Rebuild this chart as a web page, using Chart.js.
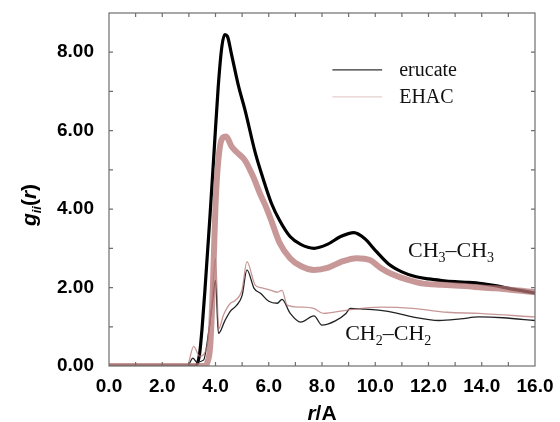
<!DOCTYPE html>
<html>
<head>
<meta charset="utf-8">
<script src="https://cdn.jsdelivr.net/npm/chart.js@4.4.1/dist/chart.umd.min.js"></script>
<style>
  html, body { margin: 0; padding: 0; background: #fff; }
  #wrap { width: 560px; height: 422px; }
</style>
</head>
<body>
<div id="wrap"><canvas id="grafico" width="560" height="422"></canvas></div>
<script>
// CH3-CH3, erucate (preto)
const rCH3Eru = [0, 3.25, 3.4, 3.5, 3.6, 3.7, 3.8, 3.95, 4.1, 4.24, 4.35, 4.45, 4.6, 4.87, 5.1, 5.5, 5.8, 6.1, 6.4, 6.8, 7.2, 7.7, 8.2, 8.7, 9.2, 9.6, 10.0, 10.5, 11.0, 11.5, 12.0, 12.5, 13.0, 13.5, 14.0, 14.5, 15.0, 15.5, 16.0];
const gCH3Eru = [0, 0, 0.3, 1.0, 1.9, 2.9, 3.9, 5.5, 7.1, 8.15, 8.45, 8.4, 7.95, 7.12, 6.55, 5.42, 4.75, 4.15, 3.72, 3.3, 3.1, 3.0, 3.1, 3.3, 3.4, 3.25, 2.95, 2.6, 2.4, 2.28, 2.22, 2.18, 2.15, 2.13, 2.1, 2.05, 1.98, 1.92, 1.86];

// CH3-CH3, EHAC (rosa)
const rCH3Ehac = [0, 3.6, 3.7, 3.8, 3.9, 4.0, 4.1, 4.25, 4.4, 4.6, 4.8, 5.1, 5.4, 5.7, 5.9, 6.1, 6.4, 6.8, 7.2, 7.7, 8.2, 8.7, 9.3, 9.8, 10.2, 10.6, 11.2, 11.8, 12.5, 13.0, 13.5, 14.0, 14.5, 15.0, 15.5, 16.0];
const gCH3Ehac = [0, 0, 0.1, 0.5, 2.0, 4.1, 5.2, 5.8, 5.85, 5.6, 5.45, 5.25, 4.85, 4.35, 4.05, 3.7, 3.15, 2.75, 2.55, 2.45, 2.5, 2.65, 2.75, 2.7, 2.5, 2.35, 2.2, 2.1, 2.07, 2.05, 2.03, 2.0, 1.98, 1.95, 1.92, 1.88];

// CH2-CH2, erucate (preto)
const rCH2Eru = [0, 2.95, 3.15, 3.3, 3.55, 3.75, 3.9, 4.0, 4.11, 4.35, 4.56, 4.8, 5.0, 5.18, 5.45, 5.7, 6.0, 6.32, 6.5, 6.8, 7.2, 7.7, 8.0, 8.5, 8.9, 9.06, 9.6, 10.2, 10.8, 11.4, 12.4, 13.2, 13.9, 14.8, 16.0];
const gCH2Eru = [0, 0, 0.2, 0.1, 0.15, 0.9, 1.7, 2.19, 0.83, 1.15, 1.4, 1.55, 1.8, 2.45, 1.98, 1.85, 1.65, 1.6, 1.7, 1.35, 1.12, 1.28, 1.04, 1.15, 1.34, 1.47, 1.45, 1.42, 1.35, 1.25, 1.16, 1.2, 1.25, 1.23, 1.16];

// CH2-CH2, EHAC (rosa)
const rCH2Ehac = [0, 2.93, 3.18, 3.4, 3.68, 3.85, 4.0, 4.12, 4.3, 4.56, 4.74, 5.0, 5.18, 5.49, 5.7, 6.0, 6.32, 6.5, 6.69, 7.19, 7.68, 8.05, 8.9, 10.2, 11.4, 12.7, 13.9, 16.0];
const gCH2Ehac = [0, 0, 0.5, 0.25, 0.5, 1.5, 2.75, 0.95, 1.3, 1.6, 1.67, 1.95, 2.66, 2.06, 2.0, 1.95, 1.88, 1.93, 1.55, 1.5, 1.47, 1.34, 1.42, 1.5, 1.47, 1.37, 1.34, 1.25];

const preto = '#000000';
const rosa = 'rgba(182, 118, 118, 0.75)';
const rosaLegenda = '#e6cfcf';
const corEixo = '#6e6e6e';

function pontos(xs, ys) {
    return xs.map((x, i) => ({ x: x, y: ys[i] }));
}

// Molduras, marcas internas e títulos dos eixos
const moldura = {
    id: 'moldura',
    afterDraw(chart) {
        const ctx = chart.ctx;
        const a = chart.chartArea;
        const sx = chart.scales.x;
        const sy = chart.scales.y;
        ctx.save();
        ctx.strokeStyle = corEixo;
        ctx.lineWidth = 1.2;
        ctx.strokeRect(a.left, a.top, a.right - a.left, a.bottom - a.top);
        ctx.beginPath();
        for (let v = 1; v < 16; v++) {
            const px = sx.getPixelForValue(v);
            ctx.moveTo(px, a.bottom); ctx.lineTo(px, a.bottom - 4);
            ctx.moveTo(px, a.top); ctx.lineTo(px, a.top + 4);
        }
        for (let v = 1; v < 9; v++) {
            const py = sy.getPixelForValue(v);
            ctx.moveTo(a.left, py); ctx.lineTo(a.left + 4, py);
            ctx.moveTo(a.right, py); ctx.lineTo(a.right - 4, py);
        }
        ctx.stroke();

        // legenda
        const lx0 = sx.getPixelForValue(8.39), lx1 = sx.getPixelForValue(10.26);
        const tx = sx.getPixelForValue(10.9);
        const itens = [[7.55, 'erucate', '#333'], [6.86, 'EHAC', rosaLegenda]];
        ctx.font = '20px "Liberation Serif", "Times New Roman", serif';
        ctx.textBaseline = 'middle';
        itens.forEach(([yv, txt, cor]) => {
            const py = sy.getPixelForValue(yv);
            ctx.strokeStyle = cor;
            ctx.lineWidth = 1.3;
            ctx.beginPath(); ctx.moveTo(lx0, py); ctx.lineTo(lx1, py); ctx.stroke();
            ctx.fillStyle = '#111';
            ctx.fillText(txt, tx, py + 1);
        });

        // rótulos das curvas
        ctx.textBaseline = 'alphabetic';
        const rotulos = [[11.23, 2.78, '3'], [8.87, 0.66, '2']];
        rotulos.forEach(([xv, yv, sub]) => {
            let x = sx.getPixelForValue(xv);
            const y = sy.getPixelForValue(yv);
            const partes = [['CH', 0, 22], [sub, 5, 14], ['\u2013CH', 0, 22], [sub, 5, 14]];
            partes.forEach(([t, dy, tam]) => {
                ctx.font = tam + 'px "Liberation Serif", "Times New Roman", serif';
                ctx.fillText(t, x, y + dy);
                x += ctx.measureText(t).width;
            });
        });

        // título eixo x: r/A
        ctx.fillStyle = '#000';
        const fontX = [['r', 'italic bold 21px "Liberation Sans", Arial, sans-serif'], ['/A', 'bold 21px "Liberation Sans", Arial, sans-serif']];
        let larg = 0;
        fontX.forEach(([t, f]) => { ctx.font = f; larg += ctx.measureText(t).width; });
        let cx = (a.left + a.right) / 2 - larg / 2;
        fontX.forEach(([t, f]) => {
            ctx.font = f;
            ctx.fillText(t, cx, 420);
            cx += ctx.measureText(t).width;
        });

        // título eixo y: g_ii(r)
        ctx.translate(36, 205);
        ctx.rotate(-Math.PI / 2);
        const partesY = [
            ['g', 0, 'italic bold 21px "Liberation Sans", Arial, sans-serif'],
            ['ii', 5, 'italic bold 13px "Liberation Sans", Arial, sans-serif'],
            ['(', 0, 'bold 21px "Liberation Sans", Arial, sans-serif'],
            ['r', 0, 'italic bold 21px "Liberation Sans", Arial, sans-serif'],
            [')', 0, 'bold 21px "Liberation Sans", Arial, sans-serif']
        ];
        let w = 0;
        partesY.forEach(([t, dy, f]) => { ctx.font = f; w += ctx.measureText(t).width; });
        let px = -w / 2;
        partesY.forEach(([t, dy, f]) => {
            ctx.font = f;
            ctx.fillText(t, px, dy);
            px += ctx.measureText(t).width;
        });
        ctx.restore();
    }
};

const fonteTicks = { family: '"Liberation Sans", Arial, sans-serif', size: 19, weight: 'bold' };

const grafico = new Chart(document.getElementById('grafico').getContext('2d'), {
    type: 'line',
    data: {
        datasets: [
            { label: 'CH2-CH2 EHAC', data: pontos(rCH2Ehac, gCH2Ehac), borderColor: rosa, borderWidth: 1.3, order: 1 },
            { label: 'CH3-CH3 EHAC', data: pontos(rCH3Ehac, gCH3Ehac), borderColor: rosa, borderWidth: 6, order: 2 },
            { label: 'CH2-CH2 erucate', data: pontos(rCH2Eru, gCH2Eru), borderColor: '#222', borderWidth: 1.3, order: 3 },
            { label: 'CH3-CH3 erucate', data: pontos(rCH3Eru, gCH3Eru), borderColor: preto, borderWidth: 3.2, order: 4 }
        ]
    },
    options: {
        responsive: false,
        animation: false,
        devicePixelRatio: 1,
        layout: { padding: { top: 13, right: 25, left: 0, bottom: 0 } },
        elements: {
            point: { radius: 0 },
            line: { cubicInterpolationMode: 'monotone', fill: false }
        },
        plugins: {
            legend: { display: false },
            tooltip: { enabled: false }
        },
        scales: {
            x: {
                type: 'linear',
                min: 0, max: 16,
                grid: { display: false, drawTicks: false },
                border: { display: false },
                ticks: {
                    stepSize: 1,
                    padding: 9,
                    color: '#000',
                    font: fonteTicks,
                    maxRotation: 0,
                    autoSkip: false,
                    callback: v => (v % 2 === 0 ? v.toFixed(1) : '')
                },
                afterFit: s => { s.height = 56; s.paddingLeft = 0; s.paddingRight = 0; }
            },
            y: {
                min: 0, max: 9,
                grid: { display: false, drawTicks: false },
                border: { display: false },
                ticks: {
                    stepSize: 1,
                    padding: 15,
                    color: '#000',
                    font: fonteTicks,
                    autoSkip: false,
                    callback: v => (v % 2 === 0 ? v.toFixed(2) : '')
                },
                afterFit: s => { s.width = 109; s.paddingTop = 0; s.paddingBottom = 0; }
            }
        }
    },
    plugins: [moldura]
});
</script>
</body>
</html>
